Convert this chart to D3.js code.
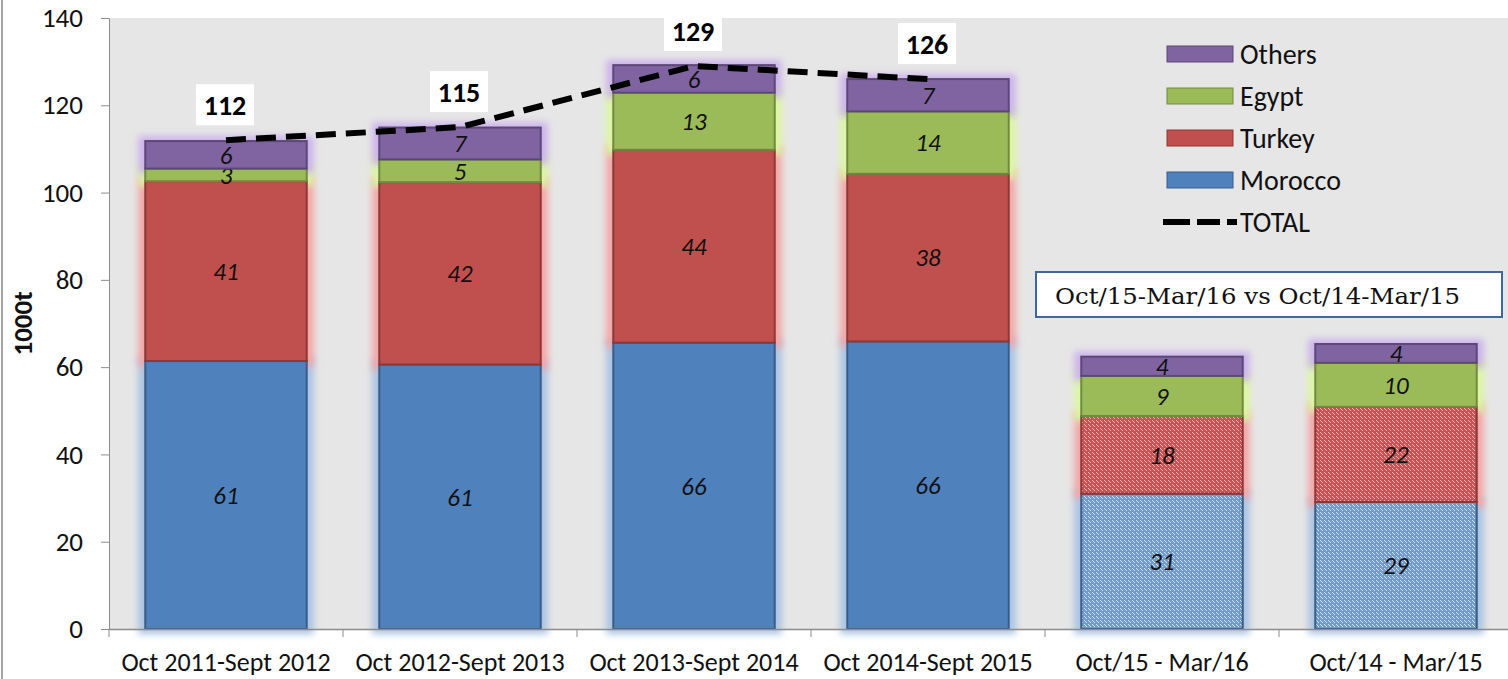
<!DOCTYPE html>
<html>
<head>
<meta charset="utf-8">
<script src="https://cdn.jsdelivr.net/npm/d3@7"></script>
<style>
  body { margin: 0; background: #fff; }
  svg { display: block; font-family: Carlito, Lato, "Open Sans", sans-serif; }
</style>
</head>
<body>
<svg id="chart" width="1508" height="679"></svg>
<script>
// chart data
const categories = ["Oct 2011-Sept 2012", "Oct 2012-Sept 2013", "Oct 2013-Sept 2014", "Oct 2014-Sept 2015", "Oct/15 - Mar/16", "Oct/14 - Mar/15"];
const seriesNames = ["Morocco", "Turkey", "Egypt", "Others"];
const morocco = [61.4, 60.6, 65.6, 65.9, 31.0, 29.1];
const turkey = [41.2, 41.8, 44.2, 38.4, 17.8, 21.8];
const egypt = [2.9, 5.2, 13.1, 14.3, 9.2, 10.1];
const others = [6.3, 7.3, 6.3, 7.4, 4.4, 4.3];
const totals = [112, 115, 129, 126];
const yTicks = [0, 20, 40, 60, 80, 100, 120, 140];
const patterned = ["Oct/15 - Mar/16", "Oct/14 - Mar/15"];
const boxText = "Oct/15-Mar/16 vs Oct/14-Mar/15";

const colors = { Morocco: "#4f81bd", Turkey: "#c0504d", Egypt: "#9bbb59", Others: "#8064a2" };
const strokes = { Morocco: "#385d8a", Turkey: "#8c3836", Egypt: "#71893f", Others: "#5c4776" };
const glows = { Morocco: "#a9c2e2", Turkey: "#f4a4a4", Egypt: "#dcf7a0", Others: "#cbb2ec" };

const svg = d3.select("#chart");
const plotLeft = 109, plotTop = 18, plotBottom = 629, plotRight = 109 + 6 * 234;

const x = d3.scaleBand().domain(categories).range([plotLeft, plotRight]).paddingInner(0.31).paddingOuter(0.155);
const y = d3.scaleLinear().domain([0, 140]).range([plotBottom, plotTop]);

const defs = svg.append("defs");
const glow = defs.append("filter").attr("id", "glow")
  .attr("x", "-20%").attr("y", "-40%").attr("width", "140%").attr("height", "180%");
glow.append("feGaussianBlur").attr("stdDeviation", 3.5);

function dotPattern(id, base, dot) {
  const p = defs.append("pattern").attr("id", id)
    .attr("patternUnits", "userSpaceOnUse").attr("width", 4).attr("height", 4);
  p.append("rect").attr("width", 4).attr("height", 4).attr("fill", base);
  p.append("rect").attr("x", 0).attr("y", 0).attr("width", 1).attr("height", 1).attr("fill", dot);
  p.append("rect").attr("x", 2).attr("y", 2).attr("width", 1).attr("height", 1).attr("fill", dot);
  p.append("rect").attr("x", 1).attr("y", 1).attr("width", 1).attr("height", 1).attr("fill", dot);
}
dotPattern("patMorocco", "#6f99cf", "#d6e4f6");
dotPattern("patTurkey", "#cc4f52", "#f1b8b8");

// plot area
svg.append("line").attr("x1", 2).attr("x2", 2).attr("y1", 0).attr("y2", 679)
  .attr("stroke", "#a6a6a6").attr("stroke-width", 2);
svg.append("rect").attr("x", plotLeft).attr("y", plotTop).attr("width", plotRight - plotLeft).attr("height", plotBottom - plotTop)
  .attr("fill", "#e6e6e6");

// stacked data
const rows = categories.map((c, i) => ({ cat: c, Morocco: morocco[i], Turkey: turkey[i], Egypt: egypt[i], Others: others[i] }));
const stacked = d3.stack().keys(seriesNames)(rows);

// glow layer
svg.append("g").selectAll("g").data(stacked).join("g")
  .attr("fill", d => glows[d.key])
  .attr("filter", "url(#glow)")
  .selectAll("rect").data(d => d).join("rect")
  .attr("x", d => x(d.data.cat) - 7)
  .attr("y", d => y(d[1]) - 5)
  .attr("width", x.bandwidth() + 14)
  .attr("height", d => y(d[0]) - y(d[1]) + 10);

// bars
const layers = svg.append("g").selectAll("g").data(stacked).join("g");
layers.selectAll("rect").data(d => d.map(v => Object.assign(v, { key: d.key }))).join("rect")
  .attr("x", d => x(d.data.cat))
  .attr("y", d => y(d[1]))
  .attr("width", x.bandwidth())
  .attr("height", d => y(d[0]) - y(d[1]))
  .attr("fill", d => patterned.includes(d.data.cat) && (d.key === "Morocco" || d.key === "Turkey")
    ? "url(#pat" + d.key + ")" : colors[d.key])
  .attr("stroke", d => strokes[d.key])
  .attr("stroke-width", 2);

// value labels
layers.selectAll("text").data(d => d).join("text")
  .attr("x", d => x(d.data.cat) + x.bandwidth() / 2)
  .attr("y", d => (y(d[0]) + y(d[1])) / 2)
  .attr("dy", "0.35em")
  .attr("text-anchor", "middle")
  .attr("font-style", "italic")
  .attr("font-size", 25)
  .attr("fill", "#111")
  .text(d => Math.round(d[1] - d[0]));

// axes
const yAxis = svg.append("g").attr("transform", `translate(${plotLeft},0)`)
  .call(d3.axisLeft(y).tickValues(yTicks).tickSize(8).tickPadding(18));
yAxis.select(".domain").attr("stroke", "#8c8c8c");
yAxis.selectAll(".tick line").attr("stroke", "#8c8c8c");
yAxis.selectAll("text").attr("font-size", 27).attr("fill", "#111").attr("font-family", "Carlito, Lato, sans-serif");

const xAxis = svg.append("g").attr("transform", `translate(0,${plotBottom})`)
  .call(d3.axisBottom(x).tickSize(0).tickPadding(24));
xAxis.select(".domain").attr("stroke", "#8c8c8c").attr("stroke-width", 1.5);
xAxis.selectAll("text").attr("font-size", 26).attr("fill", "#111").attr("font-family", "Carlito, Lato, sans-serif");
svg.append("g").selectAll("line").data(categories).join("line")
  .attr("x1", d => x(d) - x.step() * 0.155).attr("x2", d => x(d) - x.step() * 0.155)
  .attr("y1", plotBottom).attr("y2", plotBottom + 8)
  .attr("stroke", "#8c8c8c");

svg.append("text").attr("transform", `translate(23,${(plotTop + plotBottom) / 2}) rotate(-90)`)
  .attr("text-anchor", "middle").attr("dy", "0.35em").attr("font-weight", "bold").attr("font-size", 27)
  .attr("fill", "#111").text("1000t");

// total line
const line = d3.line().x((d, i) => x(categories[i]) + x.bandwidth() / 2).y(d => y(d));
svg.append("path").datum(totals).attr("d", line)
  .attr("fill", "none").attr("stroke", "#000").attr("stroke-width", 6)
  .attr("stroke-dasharray", "20,10");

// total labels
const tl = svg.append("g").selectAll("g").data(totals).join("g")
  .attr("transform", (d, i) => `translate(${x(categories[i]) + x.bandwidth() / 2 - 1},${y(d) - 35})`);
tl.append("rect").attr("x", -29).attr("y", -21).attr("width", 58).attr("height", 41).attr("fill", "#fff");
tl.append("text").attr("text-anchor", "middle").attr("dy", "0.35em")
  .attr("font-weight", "bold").attr("font-size", 28).attr("fill", "#000").text(d => d);

// legend
const legendItems = ["Others", "Egypt", "Turkey", "Morocco"];
const lg = svg.append("g").attr("transform", "translate(1167,46)");
const li = lg.selectAll("g").data(legendItems).join("g")
  .attr("transform", (d, i) => `translate(0,${i * 42})`);
li.append("rect").attr("width", 66).attr("height", 16)
  .attr("fill", d => colors[d]).attr("stroke", d => strokes[d]).attr("stroke-width", 1);
li.append("text").attr("x", 73).attr("y", 8).attr("dy", "0.35em")
  .attr("font-size", 28).attr("fill", "#111").text(d => d);
lg.append("line").attr("x1", -4).attr("x2", 70).attr("y1", 176).attr("y2", 176)
  .attr("stroke", "#000").attr("stroke-width", 6).attr("stroke-dasharray", "27,7,23,7,10");
lg.append("text").attr("x", 73).attr("y", 176).attr("dy", "0.35em")
  .attr("font-size", 28).attr("fill", "#111").text("TOTAL");

// comparison box
svg.append("rect").attr("x", 1036).attr("y", 272).attr("width", 466).attr("height", 45)
  .attr("fill", "#fff").attr("stroke", "#3f679d").attr("stroke-width", 2);
svg.append("text").attr("x", 1055).attr("y", 296).attr("dy", "0.35em")
  .attr("font-family", "'DejaVu Serif', 'Liberation Serif', serif").attr("font-size", 23)
  .attr("textLength", 405).attr("lengthAdjust", "spacingAndGlyphs")
  .attr("fill", "#111").text(boxText);
</script>
</body>
</html>
